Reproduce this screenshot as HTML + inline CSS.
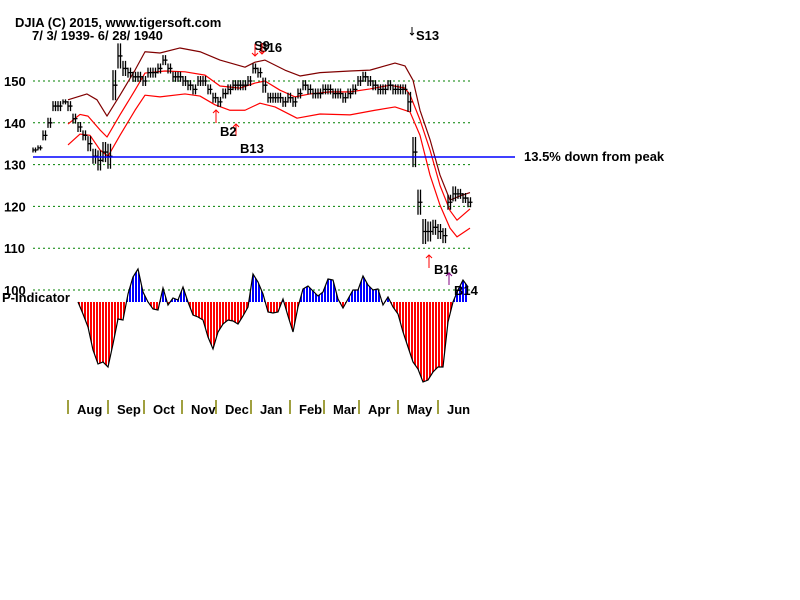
<!DOCTYPE html>
<html><head><meta charset="utf-8"><style>
body{margin:0;background:#fff;}
svg{display:block;font-family:"Liberation Sans",Arial,sans-serif;}
.t{font-weight:bold;font-size:13px;fill:#000;}
</style></head><body>
<svg id="c" width="800" height="600" viewBox="0 0 800 600">
<defs>
<pattern id="rs" width="3" height="10" patternUnits="userSpaceOnUse"><rect width="3" height="10" fill="#fff"/><rect width="2" height="10" fill="#f00"/></pattern>
<pattern id="bs" width="3" height="10" patternUnits="userSpaceOnUse"><rect width="3" height="10" fill="#fff"/><rect width="2" height="10" fill="#00f"/></pattern>
<clipPath id="above"><rect x="0" y="0" width="800" height="302"/></clipPath>
<clipPath id="below"><rect x="0" y="302" width="800" height="300"/></clipPath>
</defs>
<text class="t" x="15" y="27">DJIA    (C) 2015, www.tigersoft.com</text>
<text class="t" x="32" y="40">7/ 3/ 1939- 6/ 28/ 1940</text>
<g id="grid"></g>
<g id="bands"></g>
<g id="bars"></g>
<g id="pind"></g>
<line x1="33" y1="157" x2="515" y2="157" stroke="#0000ff" stroke-width="1.5"/>
<text class="t" x="524" y="161">13.5% down from peak</text>
<text class="t" x="2" y="302">P-Indicator</text>
<g>
<text class="t" x="254" y="50" fill="#000">S9</text>
<text class="t" x="259" y="52">S16</text>
<path d="M255 44v12m-3-3l3 3l3-3M262 43v11m-3-3l3 3l3-3" stroke="#f00" fill="none"/>
<path d="M412 27v8m-2-2l2 2l2-2" stroke="#000" fill="none"/>
<text class="t" x="416" y="40">S13</text>
<path d="M216 123v-13m-3 3l3-3l3 3M236 136v-12m-3 3l3-3l3 3" stroke="#f00" fill="none"/>
<text class="t" x="220" y="136">B2</text>
<text class="t" x="240" y="153">B13</text>
<path d="M429 268v-13m-3 3l3-3l3 3" stroke="#f00" fill="none"/>
<text class="t" x="434" y="274">B16</text>
<path d="M449 285v-12m-3 3l3-3l3 3" stroke="#800080" fill="none"/>
<text class="t" x="454" y="295">B14</text>
</g>
<g id="xaxis"></g>
</svg>
<script>
const closes=[133.5,134,137,140,144,144,145,144,141,139,137,135,132,131,133,132,149,156,153,152,151,151,150,152,152,153,155,153,151,151,150,149,148,150,150,148,146,145,147,148,149,149,149,150,153,152,149,146,146,146,145,146,145,147,149,148,147,147,148,148,147,147,146,147,148,150,151,150,149,148,148,149,148,148,148,145,133,121,114,114,115,114,113,121,123,123,122,121];
const ranges=[1,1,2,2,2,2,1,2,2,2,2,3,3,4,4,5,6,5,3,2,2,2,2,2,2,2,2,2,2,2,2,2,2,2,2,2,2,2,2,2,2,2,2,2,2,2,3,2,2,2,2,2,2,2,2,2,2,2,2,2,2,2,2,2,2,2,2,2,2,2,2,2,2,2,2,4,6,5,5,4,3,3,3,3,3,2,2,2];
const upperDays=[7,10.8,12.8,14.8,17.4,20.4,22.4,25.4,29.4,33.4,37.4,42.4,44.4,46.4,50.4,53.4,57.4,63.4,67.4,72.4,74.4,76,77.4,79.4,81.4,83.4,85.4,87.4];
const upperBand=[145.5,146.9,145.5,141.6,146.6,152.6,157,156.7,157.9,157,155,153.3,154.5,155,152.6,151.2,152,152.4,152.6,154.3,153.6,150.2,143,136,127.5,121.5,122.5,123.3];
const midDays=[7,9.4,11,13.4,14.8,17.4,20.4,22.4,26.4,30.4,34.4,37.4,41.4,44.4,46.4,49.4,52.4,55.4,59.4,63.4,67.4,71.4,74.4,75.4,77.4,79.4,81.4,83.4,84.8,87.4];
const midBand=[139.7,142,141.6,138.3,136.6,141.9,147.8,151.9,152.4,152.2,151.4,148.8,148.3,149.5,150,147.8,146.2,146.9,147.4,147.4,148.1,149,148.3,146.7,140.7,133.5,125,119,116.7,119.4];
const lowerDays=[7,9.4,11.4,13.4,15,17.4,20.4,22.4,25.4,30.4,33.4,36.4,39.4,42.4,45.4,48.4,52.8,57.4,63.4,68.4,72.4,75.4,77.4,79.4,81.4,83.4,84.8,87.4];
const lowerBand=[134.7,137.3,137,133.5,132,137,143,146.6,146.2,146.9,146.4,144.3,143,143,144.7,143.8,141.1,142.1,141.9,143,143.8,142.6,137,127.5,120.3,114.8,112.7,114.8];
const pValues=[0,-12,-25,-48,-62,-60,-65,-42,-17,-18,8,25,33,10,0,-7,-8,14,-3,4,2,15,0,-13,-15,-18,-35,-47,-30,-22,-18,-19,-22,-14,-5,28,20,8,-10,-11,-10,3,-14,-30,-5,13,16,11,6,10,23,22,3,-6,3,12,12,26,17,12,13,-3,5,-5,-12,-30,-45,-60,-67,-80,-78,-70,-65,-65,-20,0,12,22,15];
const pStartDay=9;
const priceTicks=[100,110,120,130,140,150];
const months=["Aug","Sep","Oct","Nov","Dec","Jan","Feb","Mar","Apr","May","Jun"];
const monthDays=[7,15,22.2,29.8,36.6,43.6,51.4,58.2,65.2,73,81];

const NS="http://www.w3.org/2000/svg";
const X=d=>33+5*d;
const Y=v=>290-(v-100)*4.18;
const PY=v=>302-v;
function mk(tag,attrs,parent){const e=document.createElementNS(NS,tag);for(const k in attrs)e.setAttribute(k,attrs[k]);parent.appendChild(e);return e;}
const grid=document.getElementById('grid');
priceTicks.forEach(v=>{
 const l=mk('line',{x1:33,x2:470,y1:Y(v),y2:Y(v),stroke:'#008000','stroke-dasharray':'2,3'},grid);
 
 
 const t=mk('text',{x:4,y:Y(v)+5,class:'t'},grid);t.textContent=v;
 
 
});
const bands=document.getElementById('bands');
[[upperDays,upperBand,'#800000','upper-band'],[midDays,midBand,'#ff0000','middle-band'],[lowerDays,lowerBand,'#ff0000','lower-band']].forEach(([days,arr,col,nm])=>{
 const p=mk('polyline',{points:arr.map((v,i)=>X(days[i])+','+Y(v)).join(' '),fill:'none',stroke:col,'stroke-width':1.2,'stroke-linejoin':'round'},bands);
 
 
});
const bars=document.getElementById('bars');
closes.forEach((c,i)=>{
 for(let k=0;k<2;k++){
  const x=X(i)+k*2.5;
  const r=ranges[i];
  const g=mk('path',{d:`M${x} ${Y(c+r*0.6)}V${Y(c-r*0.6)}M${x} ${Y(c)}h2`,stroke:'#000','stroke-width':1.3,fill:'none'},bars);
  
  
 }
});
const pind=document.getElementById('pind');
const pts=pValues.map((v,i)=>[X(pStartDay+i),PY(v)]);
const poly=`M${pts[0][0]} 302 `+pts.map(p=>'L'+p[0]+' '+p[1]).join(' ')+` L${pts[pts.length-1][0]} 302Z`;
const pa=mk('path',{d:poly,fill:'url(#bs)','clip-path':'url(#above)'},pind);


const pb=mk('path',{d:poly,fill:'url(#rs)','clip-path':'url(#below)'},pind);


const pl=mk('polyline',{points:pts.map(p=>p.join(',')).join(' '),fill:'none',stroke:'#000','stroke-width':1.2},pind);


const xa=document.getElementById('xaxis');
months.forEach((m,i)=>{
 const x=X(monthDays[i]);
 const l=mk('line',{x1:x,x2:x,y1:400,y2:414,stroke:'#808000','stroke-width':1.5},xa);
 
 
 const t=mk('text',{x:x+9,y:414,class:'t','font-size':'12'},xa);t.textContent=m;
 
 
});
</script>
</body></html>
